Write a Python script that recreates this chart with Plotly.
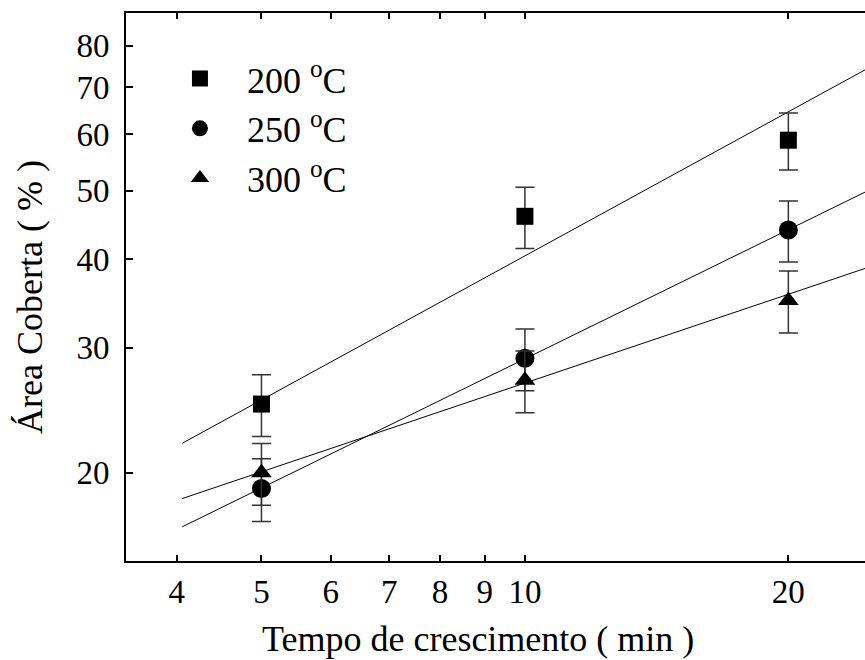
import numpy as np
import plotly.graph_objects as go

# ---- data ----
tempo = [5, 10, 20]                      # growth time (min)
series_names = ["&nbsp;&nbsp;&nbsp;200 <sup>o</sup>C",
                "&nbsp;&nbsp;&nbsp;250 <sup>o</sup>C",
                "&nbsp;&nbsp;&nbsp;300 <sup>o</sup>C"]
area_200 = [25.0, 46.0, 58.9]
err_200 = [2.5, 4.55, 5.45]
area_250 = [19.0, 29.0, 44.0]
err_250 = [1.93, 2.9, 4.35]
area_300 = [20.0, 27.0, 35.0]
err_300 = [2.0, 2.7, 3.5]
# power-law fit lines y = A * x^b
fit_A = [8.55, 7.19, 10.27]
fit_b = [0.675, 0.605, 0.416]
fit_x_range = [4.06, 30.0]
symbols = ["square", "circle", "triangle-up"]

x_ticks = [4, 5, 6, 7, 8, 9, 10, 20]
y_ticks = [20, 30, 40, 50, 60, 70, 80]

FONT = "Liberation Serif, Times New Roman, serif"
fig = go.Figure()

values = [area_200, area_250, area_300]
errors = [err_200, err_250, err_300]
sizes = [17, 19, 18]

for i in range(3):
    xf = np.array(fit_x_range)
    fig.add_trace(go.Scatter(
        x=xf, y=fit_A[i] * xf ** fit_b[i], mode="lines",
        line=dict(color="black", width=1), showlegend=False, hoverinfo="skip"))

for i in range(3):
    fig.add_trace(go.Scatter(
        x=tempo, y=values[i], mode="markers", name=series_names[i],
        marker=dict(symbol=symbols[i], size=sizes[i], color="black"),
        error_y=dict(type="data", array=errors[i], color="#333333",
                     thickness=1.5, width=9.5)))

xrange_log = [0.5442, 1.3886]
fig.update_layout(
    width=865, height=660,
    margin=dict(l=126, r=0, t=13, b=99),
    paper_bgcolor="white", plot_bgcolor="white",
    font=dict(family=FONT, color="black", size=33),
    xaxis=dict(type="log", range=xrange_log, tickmode="array",
               tickvals=x_ticks, ticktext=[str(v) for v in x_ticks],
               ticks="inside", ticklen=6, tickwidth=2, tickcolor="black",
               showline=True, linewidth=2, linecolor="black", mirror="ticks",
               showgrid=False, zeroline=False,
               tickfont=dict(family=FONT, size=33, color="black")),
    xaxis2=dict(type="log", range=xrange_log, overlaying="x", anchor="y",
                side="bottom", tickmode="array", tickvals=[10],
                ticks="inside", ticklen=12, tickwidth=2, tickcolor="black",
                showticklabels=False, showline=False, mirror="ticks",
                showgrid=False, zeroline=False),
    yaxis=dict(type="log", range=[1.1766, 1.9495], tickmode="array",
               tickvals=y_ticks, ticktext=[str(v) for v in y_ticks],
               ticks="inside", ticklen=7, tickwidth=2, tickcolor="black",
               showline=True, linewidth=2, linecolor="black", mirror=False,
               showgrid=False, zeroline=False, ticklabelstandoff=8,
               tickfont=dict(family=FONT, size=33, color="black")),
    legend=dict(x=0.073, y=0.935, xanchor="left", yanchor="top",
                bgcolor="rgba(0,0,0,0)", font=dict(family=FONT, size=36),
                itemsizing="trace"),
    showlegend=True,
    annotations=[
        dict(text="Tempo de crescimento ( min )", xref="paper", yref="paper",
             x=0.4763, y=-0.142, xanchor="center", yanchor="middle",
             showarrow=False, font=dict(family=FONT, size=36)),
        dict(text="Área Coberta ( % )", xref="paper", yref="paper",
             x=-0.1299, y=0.4818, xanchor="center", yanchor="middle",
             textangle=-90, showarrow=False, font=dict(family=FONT, size=36)),
    ],
)

fig.write_html("out.html")
